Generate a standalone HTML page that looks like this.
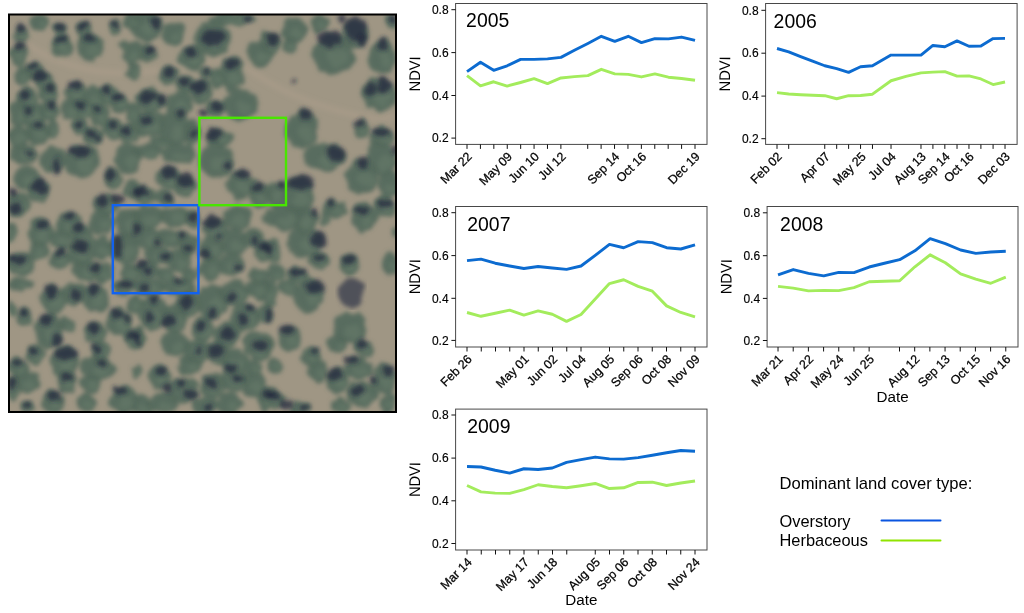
<!DOCTYPE html>
<html><head><meta charset="utf-8"><title>NDVI figure</title>
<style>html,body{margin:0;padding:0;background:#fff;}body{width:1024px;height:613px;overflow:hidden;position:relative;}</style></head>
<body>
<svg width="1024" height="613" viewBox="0 0 1024 613" style="position:absolute;left:0;top:0;font-family:'Liberation Sans',Arial,sans-serif">
<rect width="1024" height="613" fill="#fff"/>
<defs><clipPath id="ac"><rect x="9" y="14.5" width="387" height="397.5"/></clipPath><filter id="b1" x="-5%" y="-5%" width="110%" height="110%"><feTurbulence type="fractalNoise" baseFrequency="0.09" numOctaves="2" seed="7" result="n"/><feDisplacementMap in="SourceGraphic" in2="n" scale="9" xChannelSelector="R" yChannelSelector="G" result="d"/><feGaussianBlur in="d" stdDeviation="2"/></filter><filter id="b2" x="-5%" y="-5%" width="110%" height="110%"><feTurbulence type="fractalNoise" baseFrequency="0.12" numOctaves="2" seed="3" result="n"/><feDisplacementMap in="SourceGraphic" in2="n" scale="8" xChannelSelector="R" yChannelSelector="G" result="d"/><feGaussianBlur in="d" stdDeviation="2.3"/></filter><filter id="b3"><feGaussianBlur stdDeviation="2"/></filter></defs>
<g clip-path="url(#ac)"><rect x="9" y="14.5" width="387" height="397.5" fill="#9f9684"/>
<path d="M18,38 C60,70 110,78 160,70 S225,52 250,70 S310,104 347,113 S385,118 396,116" fill="none" stroke="#ab9d8b" stroke-width="6" stroke-opacity="0.55" filter="url(#b3)"/>
<g filter="url(#b1)" fill="#52685b" fill-opacity="0.92"><ellipse cx="40.2" cy="22.8" rx="9.9" ry="8.9"/><ellipse cx="20.9" cy="33.8" rx="7.4" ry="9.4"/><ellipse cx="60.1" cy="28.7" rx="6.2" ry="6.9"/><ellipse cx="61.2" cy="46.3" rx="10.4" ry="11.8"/><ellipse cx="83.2" cy="28.7" rx="7.4" ry="7.9"/><ellipse cx="89.8" cy="47.4" rx="12.8" ry="14.3"/><ellipse cx="115.1" cy="27.2" rx="6.4" ry="7.9"/><ellipse cx="132.3" cy="21.0" rx="8.9" ry="7.9"/><ellipse cx="18.2" cy="55.1" rx="9.4" ry="11.8"/><ellipse cx="132.7" cy="52.9" rx="9.9" ry="12.3"/><ellipse cx="133.8" cy="71.7" rx="7.4" ry="8.9"/><ellipse cx="125.0" cy="45.2" rx="4.9" ry="4.9"/><ellipse cx="33.6" cy="70.6" rx="9.9" ry="8.6"/><ellipse cx="43.5" cy="80.5" rx="9.9" ry="8.6"/><ellipse cx="22.6" cy="76.1" rx="9.9" ry="9.9"/><ellipse cx="27.0" cy="98.1" rx="11.1" ry="11.1"/><ellipse cx="49.0" cy="93.7" rx="9.9" ry="11.1"/><ellipse cx="18.2" cy="113.5" rx="9.9" ry="12.3"/><ellipse cx="33.6" cy="115.7" rx="12.3" ry="12.3"/><ellipse cx="49.0" cy="111.3" rx="9.9" ry="9.9"/><ellipse cx="18.2" cy="135.5" rx="11.1" ry="11.1"/><ellipse cx="38.0" cy="133.3" rx="12.3" ry="12.3"/><ellipse cx="52.3" cy="128.9" rx="7.4" ry="9.9"/><ellipse cx="75.5" cy="91.5" rx="9.9" ry="11.1"/><ellipse cx="71.1" cy="109.1" rx="11.1" ry="11.1"/><ellipse cx="84.3" cy="109.1" rx="9.9" ry="9.9"/><ellipse cx="93.1" cy="98.1" rx="11.1" ry="12.3"/><ellipse cx="108.5" cy="95.9" rx="11.1" ry="11.1"/><ellipse cx="119.5" cy="102.5" rx="9.9" ry="9.9"/><ellipse cx="99.7" cy="115.7" rx="11.1" ry="9.9"/><ellipse cx="79.9" cy="126.7" rx="8.6" ry="8.6"/><ellipse cx="93.1" cy="135.5" rx="9.9" ry="9.9"/><ellipse cx="112.9" cy="128.9" rx="11.1" ry="11.1"/><ellipse cx="128.3" cy="133.3" rx="9.9" ry="9.9"/><ellipse cx="132.7" cy="113.5" rx="7.4" ry="9.9"/><ellipse cx="146.0" cy="25.4" rx="16.5" ry="16.5"/><ellipse cx="173.5" cy="34.2" rx="11.0" ry="12.4"/><ellipse cx="148.2" cy="52.9" rx="9.6" ry="9.6"/><ellipse cx="212.1" cy="38.6" rx="17.9" ry="17.9"/><ellipse cx="231.9" cy="18.8" rx="24.8" ry="6.9"/><ellipse cx="192.3" cy="57.3" rx="13.8" ry="12.4"/><ellipse cx="168.0" cy="75.0" rx="9.6" ry="11.0"/><ellipse cx="185.7" cy="84.9" rx="9.6" ry="9.6"/><ellipse cx="201.1" cy="91.5" rx="11.0" ry="12.4"/><ellipse cx="205.5" cy="72.8" rx="6.1" ry="6.9"/><ellipse cx="216.5" cy="78.3" rx="6.9" ry="11.0"/><ellipse cx="231.9" cy="73.9" rx="12.4" ry="17.9"/><ellipse cx="260.5" cy="54.0" rx="12.4" ry="13.8"/><ellipse cx="264.9" cy="38.6" rx="6.9" ry="8.3"/><ellipse cx="150.4" cy="100.3" rx="15.1" ry="12.4"/><ellipse cx="179.0" cy="104.7" rx="13.8" ry="13.8"/><ellipse cx="214.3" cy="109.1" rx="9.6" ry="8.3"/><ellipse cx="240.7" cy="104.7" rx="17.9" ry="15.1"/><ellipse cx="148.2" cy="124.5" rx="16.5" ry="13.8"/><ellipse cx="174.6" cy="128.9" rx="16.5" ry="16.5"/><ellipse cx="192.3" cy="133.3" rx="8.3" ry="13.8"/><ellipse cx="218.7" cy="137.7" rx="13.8" ry="9.6"/><ellipse cx="161.4" cy="142.1" rx="11.0" ry="5.5"/><ellipse cx="271.6" cy="43.0" rx="8.9" ry="11.4"/><ellipse cx="293.6" cy="29.8" rx="12.7" ry="13.9"/><ellipse cx="320.1" cy="23.2" rx="10.1" ry="8.9"/><ellipse cx="333.3" cy="54.0" rx="21.5" ry="20.3"/><ellipse cx="355.3" cy="34.2" rx="12.7" ry="13.9"/><ellipse cx="382.8" cy="56.2" rx="13.9" ry="17.7"/><ellipse cx="390.5" cy="21.0" rx="6.3" ry="7.6"/><ellipse cx="378.4" cy="94.8" rx="16.5" ry="16.5"/><ellipse cx="302.4" cy="128.9" rx="16.5" ry="19.0"/><ellipse cx="361.9" cy="130.0" rx="7.6" ry="10.1"/><ellipse cx="381.7" cy="137.7" rx="12.7" ry="10.1"/><ellipse cx="289.2" cy="45.2" rx="6.3" ry="6.3"/><ellipse cx="24.8" cy="153.8" rx="15.2" ry="10.1"/><ellipse cx="53.5" cy="160.4" rx="12.7" ry="13.9"/><ellipse cx="82.1" cy="160.4" rx="17.7" ry="16.5"/><ellipse cx="128.3" cy="158.2" rx="12.7" ry="15.2"/><ellipse cx="27.0" cy="178.0" rx="12.7" ry="12.7"/><ellipse cx="38.0" cy="191.2" rx="11.4" ry="11.4"/><ellipse cx="112.9" cy="178.0" rx="8.9" ry="11.4"/><ellipse cx="132.7" cy="189.0" rx="8.9" ry="10.1"/><ellipse cx="18.2" cy="204.5" rx="11.4" ry="12.7"/><ellipse cx="106.3" cy="204.5" rx="12.7" ry="10.1"/><ellipse cx="40.2" cy="230.9" rx="12.7" ry="13.9"/><ellipse cx="68.9" cy="224.3" rx="11.4" ry="12.7"/><ellipse cx="60.1" cy="239.7" rx="10.1" ry="10.1"/><ellipse cx="82.1" cy="237.5" rx="12.7" ry="12.7"/><ellipse cx="101.9" cy="222.1" rx="12.7" ry="12.7"/><ellipse cx="128.3" cy="222.1" rx="12.7" ry="15.2"/><ellipse cx="79.9" cy="252.9" rx="13.9" ry="12.7"/><ellipse cx="101.9" cy="248.5" rx="10.1" ry="12.7"/><ellipse cx="123.9" cy="248.5" rx="15.2" ry="15.2"/><ellipse cx="38.0" cy="250.7" rx="10.1" ry="10.1"/><ellipse cx="60.1" cy="259.5" rx="10.1" ry="10.1"/><ellipse cx="20.4" cy="263.9" rx="13.9" ry="12.7"/><ellipse cx="86.5" cy="270.5" rx="12.7" ry="11.4"/><ellipse cx="104.1" cy="272.7" rx="10.1" ry="10.1"/><ellipse cx="130.5" cy="272.7" rx="10.1" ry="10.1"/><ellipse cx="11.6" cy="233.1" rx="5.1" ry="10.1"/><ellipse cx="148.2" cy="151.6" rx="15.2" ry="7.6"/><ellipse cx="179.0" cy="153.8" rx="17.7" ry="10.1"/><ellipse cx="168.0" cy="178.0" rx="12.7" ry="11.4"/><ellipse cx="185.7" cy="186.8" rx="11.4" ry="11.4"/><ellipse cx="143.8" cy="195.7" rx="11.4" ry="10.1"/><ellipse cx="163.6" cy="197.9" rx="10.1" ry="7.6"/><ellipse cx="216.5" cy="160.4" rx="17.7" ry="17.7"/><ellipse cx="240.7" cy="184.6" rx="15.2" ry="15.2"/><ellipse cx="260.5" cy="195.7" rx="11.4" ry="12.7"/><ellipse cx="148.2" cy="217.7" rx="15.2" ry="11.4"/><ellipse cx="174.6" cy="215.5" rx="15.2" ry="10.1"/><ellipse cx="192.3" cy="219.9" rx="7.6" ry="10.1"/><ellipse cx="148.2" cy="237.5" rx="13.9" ry="11.4"/><ellipse cx="170.2" cy="237.5" rx="12.7" ry="10.1"/><ellipse cx="187.9" cy="244.1" rx="10.1" ry="11.4"/><ellipse cx="157.0" cy="255.1" rx="12.7" ry="10.1"/><ellipse cx="179.0" cy="259.5" rx="12.7" ry="11.4"/><ellipse cx="146.0" cy="270.5" rx="12.7" ry="10.1"/><ellipse cx="165.8" cy="274.9" rx="10.1" ry="7.6"/><ellipse cx="190.1" cy="274.9" rx="8.9" ry="7.6"/><ellipse cx="214.3" cy="228.7" rx="12.7" ry="10.1"/><ellipse cx="236.3" cy="217.7" rx="15.2" ry="12.7"/><ellipse cx="212.1" cy="248.5" rx="12.7" ry="12.7"/><ellipse cx="234.1" cy="241.9" rx="13.9" ry="12.7"/><ellipse cx="253.9" cy="237.5" rx="10.1" ry="10.1"/><ellipse cx="209.9" cy="268.3" rx="11.4" ry="12.7"/><ellipse cx="231.9" cy="263.9" rx="12.7" ry="11.4"/><ellipse cx="262.7" cy="250.7" rx="8.9" ry="11.4"/><ellipse cx="258.3" cy="274.9" rx="10.1" ry="7.6"/><ellipse cx="324.5" cy="157.1" rx="21.5" ry="13.9"/><ellipse cx="298.0" cy="195.7" rx="16.5" ry="19.0"/><ellipse cx="276.0" cy="193.5" rx="10.1" ry="12.7"/><ellipse cx="361.9" cy="175.8" rx="16.5" ry="16.5"/><ellipse cx="381.7" cy="158.2" rx="15.2" ry="17.7"/><ellipse cx="388.3" cy="184.6" rx="10.1" ry="12.7"/><ellipse cx="335.5" cy="208.9" rx="11.4" ry="10.1"/><ellipse cx="364.1" cy="217.7" rx="12.7" ry="13.9"/><ellipse cx="385.0" cy="206.7" rx="11.4" ry="11.4"/><ellipse cx="282.6" cy="217.7" rx="20.3" ry="12.7"/><ellipse cx="304.6" cy="219.9" rx="12.7" ry="12.7"/><ellipse cx="304.6" cy="241.9" rx="17.7" ry="16.5"/><ellipse cx="271.6" cy="250.7" rx="10.1" ry="12.7"/><ellipse cx="319.0" cy="260.6" rx="10.1" ry="8.9"/><ellipse cx="349.8" cy="265.0" rx="10.1" ry="11.4"/><ellipse cx="390.5" cy="263.9" rx="7.6" ry="12.7"/><ellipse cx="298.0" cy="274.9" rx="11.4" ry="7.6"/><ellipse cx="276.0" cy="272.7" rx="8.9" ry="8.9"/><ellipse cx="394.9" cy="233.1" rx="3.8" ry="5.1"/><ellipse cx="324.5" cy="217.7" rx="5.1" ry="7.6"/><ellipse cx="20.4" cy="284.4" rx="12.7" ry="6.3"/><ellipse cx="53.5" cy="299.8" rx="12.7" ry="13.9"/><ellipse cx="73.3" cy="293.2" rx="12.7" ry="11.4"/><ellipse cx="95.3" cy="297.6" rx="12.7" ry="15.2"/><ellipse cx="121.7" cy="286.6" rx="10.1" ry="7.6"/><ellipse cx="134.9" cy="304.2" rx="7.6" ry="10.1"/><ellipse cx="23.7" cy="317.4" rx="8.9" ry="8.9"/><ellipse cx="49.0" cy="330.7" rx="13.9" ry="17.7"/><ellipse cx="66.7" cy="324.0" rx="7.6" ry="7.6"/><ellipse cx="95.3" cy="332.9" rx="11.4" ry="11.4"/><ellipse cx="119.5" cy="321.8" rx="12.7" ry="13.9"/><ellipse cx="133.8" cy="339.5" rx="10.1" ry="11.4"/><ellipse cx="35.8" cy="354.9" rx="10.1" ry="10.1"/><ellipse cx="64.5" cy="361.5" rx="13.9" ry="15.2"/><ellipse cx="99.7" cy="350.5" rx="10.1" ry="10.1"/><ellipse cx="97.5" cy="368.1" rx="17.7" ry="12.7"/><ellipse cx="18.2" cy="368.1" rx="10.1" ry="10.1"/><ellipse cx="27.0" cy="381.3" rx="12.7" ry="11.4"/><ellipse cx="66.7" cy="381.3" rx="10.1" ry="11.4"/><ellipse cx="90.9" cy="383.5" rx="10.1" ry="8.9"/><ellipse cx="13.8" cy="387.9" rx="6.3" ry="12.7"/><ellipse cx="53.5" cy="402.2" rx="11.4" ry="11.4"/><ellipse cx="86.5" cy="402.2" rx="10.1" ry="10.1"/><ellipse cx="123.9" cy="400.0" rx="15.2" ry="13.9"/><ellipse cx="27.0" cy="406.6" rx="7.6" ry="6.3"/><ellipse cx="11.6" cy="308.6" rx="3.8" ry="7.6"/><ellipse cx="137.1" cy="372.5" rx="5.1" ry="7.6"/><ellipse cx="148.2" cy="286.6" rx="17.7" ry="7.6"/><ellipse cx="179.0" cy="286.6" rx="15.2" ry="8.9"/><ellipse cx="152.6" cy="313.0" rx="15.2" ry="17.7"/><ellipse cx="174.6" cy="319.6" rx="12.7" ry="13.9"/><ellipse cx="187.9" cy="304.2" rx="12.7" ry="13.9"/><ellipse cx="212.1" cy="302.0" rx="15.2" ry="17.7"/><ellipse cx="234.1" cy="293.2" rx="15.2" ry="12.7"/><ellipse cx="258.3" cy="288.8" rx="12.7" ry="10.1"/><ellipse cx="245.1" cy="317.4" rx="15.2" ry="13.9"/><ellipse cx="264.9" cy="313.0" rx="7.6" ry="10.1"/><ellipse cx="203.3" cy="328.5" rx="11.4" ry="12.7"/><ellipse cx="227.5" cy="335.1" rx="13.9" ry="12.7"/><ellipse cx="258.3" cy="346.1" rx="15.2" ry="15.2"/><ellipse cx="174.6" cy="343.9" rx="15.2" ry="12.7"/><ellipse cx="196.7" cy="350.5" rx="12.7" ry="12.7"/><ellipse cx="216.5" cy="352.7" rx="11.4" ry="12.7"/><ellipse cx="190.1" cy="365.9" rx="12.7" ry="10.1"/><ellipse cx="234.1" cy="361.5" rx="12.7" ry="12.7"/><ellipse cx="159.2" cy="376.9" rx="11.4" ry="12.7"/><ellipse cx="183.5" cy="390.1" rx="15.2" ry="12.7"/><ellipse cx="212.1" cy="385.7" rx="12.7" ry="12.7"/><ellipse cx="234.1" cy="379.1" rx="13.9" ry="12.7"/><ellipse cx="253.9" cy="383.5" rx="11.4" ry="12.7"/><ellipse cx="163.6" cy="403.3" rx="15.2" ry="10.1"/><ellipse cx="205.5" cy="405.5" rx="12.7" ry="8.9"/><ellipse cx="229.7" cy="403.3" rx="12.7" ry="11.4"/><ellipse cx="264.9" cy="398.9" rx="7.6" ry="12.7"/><ellipse cx="141.6" cy="405.5" rx="10.1" ry="8.9"/><ellipse cx="139.4" cy="337.3" rx="5.1" ry="10.1"/><ellipse cx="253.9" cy="368.1" rx="10.1" ry="7.6"/><ellipse cx="309.0" cy="295.4" rx="15.2" ry="17.7"/><ellipse cx="349.8" cy="328.5" rx="16.5" ry="16.5"/><ellipse cx="337.7" cy="343.9" rx="10.1" ry="10.1"/><ellipse cx="290.3" cy="338.4" rx="11.4" ry="12.7"/><ellipse cx="364.1" cy="348.3" rx="10.1" ry="8.9"/><ellipse cx="311.2" cy="357.1" rx="10.1" ry="8.9"/><ellipse cx="317.9" cy="370.3" rx="10.1" ry="11.4"/><ellipse cx="274.9" cy="364.8" rx="7.6" ry="7.6"/><ellipse cx="357.5" cy="368.1" rx="13.9" ry="11.4"/><ellipse cx="383.9" cy="379.1" rx="12.7" ry="15.2"/><ellipse cx="337.7" cy="381.3" rx="11.4" ry="12.7"/><ellipse cx="361.9" cy="394.5" rx="15.2" ry="12.7"/><ellipse cx="388.3" cy="403.3" rx="7.6" ry="10.1"/><ellipse cx="273.8" cy="398.9" rx="12.7" ry="10.1"/><ellipse cx="300.2" cy="407.7" rx="10.1" ry="6.3"/><ellipse cx="339.9" cy="405.5" rx="10.1" ry="7.6"/><ellipse cx="269.4" cy="293.2" rx="7.6" ry="15.2"/><ellipse cx="267.2" cy="346.1" rx="3.8" ry="10.1"/><ellipse cx="287.0" cy="286.6" rx="10.1" ry="7.6"/></g>
<g filter="url(#b1)" fill="#6c8270" fill-opacity="0.35"><ellipse cx="42.2" cy="25.0" rx="4.8" ry="4.0"/><ellipse cx="22.3" cy="36.1" rx="3.6" ry="4.2"/><ellipse cx="61.3" cy="30.4" rx="3.0" ry="3.1"/><ellipse cx="63.2" cy="49.3" rx="5.1" ry="5.3"/><ellipse cx="84.6" cy="30.7" rx="3.6" ry="3.5"/><ellipse cx="92.3" cy="51.0" rx="6.3" ry="6.4"/><ellipse cx="116.4" cy="29.2" rx="3.1" ry="3.5"/><ellipse cx="134.0" cy="23.0" rx="4.4" ry="3.5"/><ellipse cx="20.1" cy="58.1" rx="4.6" ry="5.3"/><ellipse cx="134.7" cy="56.0" rx="4.8" ry="5.5"/><ellipse cx="135.3" cy="73.9" rx="3.6" ry="4.0"/><ellipse cx="126.0" cy="46.5" rx="2.4" ry="2.2"/><ellipse cx="35.6" cy="72.7" rx="4.8" ry="3.9"/><ellipse cx="45.5" cy="82.6" rx="4.8" ry="3.9"/><ellipse cx="24.6" cy="78.5" rx="4.8" ry="4.4"/><ellipse cx="29.2" cy="100.9" rx="5.5" ry="5.0"/><ellipse cx="51.0" cy="96.5" rx="4.8" ry="5.0"/><ellipse cx="20.2" cy="116.6" rx="4.8" ry="5.5"/><ellipse cx="36.1" cy="118.8" rx="6.1" ry="5.5"/><ellipse cx="51.0" cy="113.8" rx="4.8" ry="4.4"/><ellipse cx="20.4" cy="138.3" rx="5.5" ry="5.0"/><ellipse cx="40.5" cy="136.4" rx="6.1" ry="5.5"/><ellipse cx="53.8" cy="131.4" rx="3.6" ry="4.4"/><ellipse cx="77.4" cy="94.3" rx="4.8" ry="5.0"/><ellipse cx="73.2" cy="111.9" rx="5.5" ry="5.0"/><ellipse cx="86.2" cy="111.6" rx="4.8" ry="4.4"/><ellipse cx="95.3" cy="101.2" rx="5.5" ry="5.5"/><ellipse cx="110.7" cy="98.7" rx="5.5" ry="5.0"/><ellipse cx="121.5" cy="105.0" rx="4.8" ry="4.4"/><ellipse cx="101.9" cy="118.2" rx="5.5" ry="4.4"/><ellipse cx="81.6" cy="128.9" rx="4.2" ry="3.9"/><ellipse cx="95.0" cy="138.0" rx="4.8" ry="4.4"/><ellipse cx="115.1" cy="131.7" rx="5.5" ry="5.0"/><ellipse cx="130.3" cy="135.8" rx="4.8" ry="4.4"/><ellipse cx="134.2" cy="116.0" rx="3.6" ry="4.4"/><ellipse cx="148.9" cy="29.1" rx="7.3" ry="6.6"/><ellipse cx="175.5" cy="37.0" rx="4.8" ry="5.0"/><ellipse cx="149.9" cy="55.1" rx="4.2" ry="3.9"/><ellipse cx="215.2" cy="42.6" rx="7.9" ry="7.2"/><ellipse cx="236.3" cy="20.4" rx="10.9" ry="2.8"/><ellipse cx="194.7" cy="60.1" rx="6.1" ry="5.0"/><ellipse cx="169.7" cy="77.4" rx="4.2" ry="4.4"/><ellipse cx="187.3" cy="87.0" rx="4.2" ry="3.9"/><ellipse cx="203.0" cy="94.3" rx="4.8" ry="5.0"/><ellipse cx="206.5" cy="74.3" rx="2.7" ry="2.8"/><ellipse cx="217.7" cy="80.7" rx="3.0" ry="4.4"/><ellipse cx="234.1" cy="77.9" rx="5.5" ry="7.2"/><ellipse cx="262.7" cy="57.1" rx="5.5" ry="5.5"/><ellipse cx="266.1" cy="40.5" rx="3.0" ry="3.3"/><ellipse cx="153.1" cy="103.1" rx="6.7" ry="5.0"/><ellipse cx="181.5" cy="107.8" rx="6.1" ry="5.5"/><ellipse cx="216.0" cy="111.0" rx="4.2" ry="3.3"/><ellipse cx="243.9" cy="108.1" rx="7.9" ry="6.1"/><ellipse cx="151.1" cy="127.6" rx="7.3" ry="5.5"/><ellipse cx="177.5" cy="132.6" rx="7.3" ry="6.6"/><ellipse cx="193.7" cy="136.4" rx="3.6" ry="5.5"/><ellipse cx="221.1" cy="139.9" rx="6.1" ry="3.9"/><ellipse cx="163.4" cy="143.4" rx="4.8" ry="2.2"/><ellipse cx="273.3" cy="45.8" rx="4.2" ry="5.0"/><ellipse cx="296.1" cy="33.2" rx="6.1" ry="6.1"/><ellipse cx="322.0" cy="25.4" rx="4.8" ry="3.9"/><ellipse cx="337.4" cy="59.0" rx="10.3" ry="8.8"/><ellipse cx="357.7" cy="37.6" rx="6.1" ry="6.1"/><ellipse cx="385.5" cy="60.6" rx="6.7" ry="7.7"/><ellipse cx="391.7" cy="22.9" rx="3.0" ry="3.3"/><ellipse cx="381.6" cy="98.8" rx="7.9" ry="7.2"/><ellipse cx="305.6" cy="133.5" rx="7.9" ry="8.3"/><ellipse cx="363.4" cy="132.5" rx="3.6" ry="4.4"/><ellipse cx="384.1" cy="140.2" rx="6.1" ry="4.4"/><ellipse cx="290.4" cy="46.8" rx="3.0" ry="2.8"/><ellipse cx="27.7" cy="156.3" rx="7.3" ry="4.4"/><ellipse cx="55.9" cy="163.8" rx="6.1" ry="6.1"/><ellipse cx="85.5" cy="164.4" rx="8.5" ry="7.2"/><ellipse cx="130.8" cy="161.9" rx="6.1" ry="6.6"/><ellipse cx="29.4" cy="181.1" rx="6.1" ry="5.5"/><ellipse cx="40.2" cy="194.0" rx="5.5" ry="5.0"/><ellipse cx="114.6" cy="180.8" rx="4.2" ry="5.0"/><ellipse cx="134.4" cy="191.5" rx="4.2" ry="4.4"/><ellipse cx="20.4" cy="207.5" rx="5.5" ry="5.5"/><ellipse cx="108.7" cy="206.9" rx="6.1" ry="4.4"/><ellipse cx="42.7" cy="234.3" rx="6.1" ry="6.1"/><ellipse cx="71.0" cy="227.4" rx="5.5" ry="5.5"/><ellipse cx="62.0" cy="242.2" rx="4.8" ry="4.4"/><ellipse cx="84.5" cy="240.6" rx="6.1" ry="5.5"/><ellipse cx="104.3" cy="225.2" rx="6.1" ry="5.5"/><ellipse cx="130.8" cy="225.8" rx="6.1" ry="6.6"/><ellipse cx="82.5" cy="256.0" rx="6.7" ry="5.5"/><ellipse cx="103.8" cy="251.6" rx="4.8" ry="5.5"/><ellipse cx="126.8" cy="252.2" rx="7.3" ry="6.6"/><ellipse cx="40.0" cy="253.2" rx="4.8" ry="4.4"/><ellipse cx="62.0" cy="262.0" rx="4.8" ry="4.4"/><ellipse cx="23.1" cy="267.0" rx="6.7" ry="5.5"/><ellipse cx="88.9" cy="273.3" rx="6.1" ry="5.0"/><ellipse cx="106.0" cy="275.2" rx="4.8" ry="4.4"/><ellipse cx="132.5" cy="275.2" rx="4.8" ry="4.4"/><ellipse cx="12.6" cy="235.6" rx="2.4" ry="4.4"/><ellipse cx="151.1" cy="153.5" rx="7.3" ry="3.3"/><ellipse cx="182.4" cy="156.3" rx="8.5" ry="4.4"/><ellipse cx="170.5" cy="180.8" rx="6.1" ry="5.0"/><ellipse cx="187.8" cy="189.6" rx="5.5" ry="5.0"/><ellipse cx="146.0" cy="198.1" rx="5.5" ry="4.4"/><ellipse cx="165.6" cy="199.7" rx="4.8" ry="3.3"/><ellipse cx="219.9" cy="164.7" rx="8.5" ry="7.7"/><ellipse cx="243.6" cy="188.3" rx="7.3" ry="6.6"/><ellipse cx="262.7" cy="198.7" rx="5.5" ry="5.5"/><ellipse cx="151.1" cy="220.5" rx="7.3" ry="5.0"/><ellipse cx="177.5" cy="217.9" rx="7.3" ry="4.4"/><ellipse cx="193.7" cy="222.3" rx="3.6" ry="4.4"/><ellipse cx="150.9" cy="240.3" rx="6.7" ry="5.0"/><ellipse cx="172.7" cy="240.0" rx="6.1" ry="4.4"/><ellipse cx="189.8" cy="246.9" rx="4.8" ry="5.0"/><ellipse cx="159.4" cy="257.6" rx="6.1" ry="4.4"/><ellipse cx="181.5" cy="262.3" rx="6.1" ry="5.0"/><ellipse cx="148.4" cy="273.0" rx="6.1" ry="4.4"/><ellipse cx="167.8" cy="276.8" rx="4.8" ry="3.3"/><ellipse cx="191.8" cy="276.8" rx="4.2" ry="3.3"/><ellipse cx="216.7" cy="231.2" rx="6.1" ry="4.4"/><ellipse cx="239.2" cy="220.8" rx="7.3" ry="5.5"/><ellipse cx="214.5" cy="251.6" rx="6.1" ry="5.5"/><ellipse cx="236.8" cy="245.0" rx="6.7" ry="5.5"/><ellipse cx="255.9" cy="240.0" rx="4.8" ry="4.4"/><ellipse cx="212.1" cy="271.4" rx="5.5" ry="5.5"/><ellipse cx="234.3" cy="266.7" rx="6.1" ry="5.0"/><ellipse cx="264.4" cy="253.5" rx="4.2" ry="5.0"/><ellipse cx="260.3" cy="276.8" rx="4.8" ry="3.3"/><ellipse cx="328.6" cy="160.5" rx="10.3" ry="6.1"/><ellipse cx="301.2" cy="200.3" rx="7.9" ry="8.3"/><ellipse cx="277.9" cy="196.5" rx="4.8" ry="5.5"/><ellipse cx="365.0" cy="179.8" rx="7.9" ry="7.2"/><ellipse cx="384.6" cy="162.5" rx="7.3" ry="7.7"/><ellipse cx="390.3" cy="187.7" rx="4.8" ry="5.5"/><ellipse cx="337.7" cy="211.3" rx="5.5" ry="4.4"/><ellipse cx="366.5" cy="221.1" rx="6.1" ry="6.1"/><ellipse cx="387.2" cy="209.4" rx="5.5" ry="5.0"/><ellipse cx="286.5" cy="220.8" rx="9.7" ry="5.5"/><ellipse cx="307.1" cy="223.0" rx="6.1" ry="5.5"/><ellipse cx="308.0" cy="245.9" rx="8.5" ry="7.2"/><ellipse cx="273.5" cy="253.8" rx="4.8" ry="5.5"/><ellipse cx="320.9" cy="262.8" rx="4.8" ry="3.9"/><ellipse cx="351.7" cy="267.8" rx="4.8" ry="5.0"/><ellipse cx="392.0" cy="267.0" rx="3.6" ry="5.5"/><ellipse cx="300.2" cy="276.8" rx="5.5" ry="3.3"/><ellipse cx="277.7" cy="274.9" rx="4.2" ry="3.9"/><ellipse cx="395.7" cy="234.3" rx="1.8" ry="2.2"/><ellipse cx="325.4" cy="219.5" rx="2.4" ry="3.3"/><ellipse cx="22.8" cy="285.9" rx="6.1" ry="2.8"/><ellipse cx="55.9" cy="303.2" rx="6.1" ry="6.1"/><ellipse cx="75.7" cy="296.0" rx="6.1" ry="5.0"/><ellipse cx="97.7" cy="301.3" rx="6.1" ry="6.6"/><ellipse cx="123.7" cy="288.5" rx="4.8" ry="3.3"/><ellipse cx="136.4" cy="306.7" rx="3.6" ry="4.4"/><ellipse cx="25.4" cy="319.6" rx="4.2" ry="3.9"/><ellipse cx="51.7" cy="335.0" rx="6.7" ry="7.7"/><ellipse cx="68.1" cy="325.9" rx="3.6" ry="3.3"/><ellipse cx="97.5" cy="335.6" rx="5.5" ry="5.0"/><ellipse cx="121.9" cy="325.2" rx="6.1" ry="6.1"/><ellipse cx="135.8" cy="342.2" rx="4.8" ry="5.0"/><ellipse cx="37.8" cy="357.3" rx="4.8" ry="4.4"/><ellipse cx="67.1" cy="365.2" rx="6.7" ry="6.6"/><ellipse cx="101.6" cy="352.9" rx="4.8" ry="4.4"/><ellipse cx="100.9" cy="371.2" rx="8.5" ry="5.5"/><ellipse cx="20.2" cy="370.6" rx="4.8" ry="4.4"/><ellipse cx="29.4" cy="384.1" rx="6.1" ry="5.0"/><ellipse cx="68.6" cy="384.1" rx="4.8" ry="5.0"/><ellipse cx="92.8" cy="385.7" rx="4.8" ry="3.9"/><ellipse cx="15.0" cy="391.0" rx="3.0" ry="5.5"/><ellipse cx="55.6" cy="405.0" rx="5.5" ry="5.0"/><ellipse cx="88.4" cy="404.7" rx="4.8" ry="4.4"/><ellipse cx="126.8" cy="403.4" rx="7.3" ry="6.1"/><ellipse cx="28.5" cy="408.2" rx="3.6" ry="2.8"/><ellipse cx="12.3" cy="310.5" rx="1.8" ry="3.3"/><ellipse cx="138.1" cy="374.3" rx="2.4" ry="3.3"/><ellipse cx="151.6" cy="288.5" rx="8.5" ry="3.3"/><ellipse cx="182.0" cy="288.8" rx="7.3" ry="3.9"/><ellipse cx="155.5" cy="317.4" rx="7.3" ry="7.7"/><ellipse cx="177.1" cy="323.0" rx="6.1" ry="6.1"/><ellipse cx="190.3" cy="307.6" rx="6.1" ry="6.1"/><ellipse cx="215.0" cy="306.3" rx="7.3" ry="7.7"/><ellipse cx="237.0" cy="296.3" rx="7.3" ry="5.5"/><ellipse cx="260.8" cy="291.3" rx="6.1" ry="4.4"/><ellipse cx="248.0" cy="320.8" rx="7.3" ry="6.1"/><ellipse cx="266.4" cy="315.5" rx="3.6" ry="4.4"/><ellipse cx="205.5" cy="331.5" rx="5.5" ry="5.5"/><ellipse cx="230.2" cy="338.1" rx="6.7" ry="5.5"/><ellipse cx="261.2" cy="349.8" rx="7.3" ry="6.6"/><ellipse cx="177.5" cy="346.9" rx="7.3" ry="5.5"/><ellipse cx="199.1" cy="353.6" rx="6.1" ry="5.5"/><ellipse cx="218.7" cy="355.8" rx="5.5" ry="5.5"/><ellipse cx="192.5" cy="368.4" rx="6.1" ry="4.4"/><ellipse cx="236.5" cy="364.6" rx="6.1" ry="5.5"/><ellipse cx="161.4" cy="380.0" rx="5.5" ry="5.5"/><ellipse cx="186.4" cy="393.2" rx="7.3" ry="5.5"/><ellipse cx="214.5" cy="388.8" rx="6.1" ry="5.5"/><ellipse cx="236.8" cy="382.2" rx="6.7" ry="5.5"/><ellipse cx="256.1" cy="386.6" rx="5.5" ry="5.5"/><ellipse cx="166.5" cy="405.8" rx="7.3" ry="4.4"/><ellipse cx="207.9" cy="407.7" rx="6.1" ry="3.9"/><ellipse cx="232.1" cy="406.1" rx="6.1" ry="5.0"/><ellipse cx="266.4" cy="402.0" rx="3.6" ry="5.5"/><ellipse cx="143.5" cy="407.7" rx="4.8" ry="3.9"/><ellipse cx="140.4" cy="339.7" rx="2.4" ry="4.4"/><ellipse cx="255.9" cy="369.9" rx="4.8" ry="3.3"/><ellipse cx="312.0" cy="299.7" rx="7.3" ry="7.7"/><ellipse cx="352.9" cy="332.5" rx="7.9" ry="7.2"/><ellipse cx="339.6" cy="346.3" rx="4.8" ry="4.4"/><ellipse cx="292.5" cy="341.4" rx="5.5" ry="5.5"/><ellipse cx="366.0" cy="350.4" rx="4.8" ry="3.9"/><ellipse cx="313.2" cy="359.2" rx="4.8" ry="3.9"/><ellipse cx="319.8" cy="373.1" rx="4.8" ry="5.0"/><ellipse cx="276.4" cy="366.6" rx="3.6" ry="3.3"/><ellipse cx="360.2" cy="370.9" rx="6.7" ry="5.0"/><ellipse cx="386.3" cy="382.8" rx="6.1" ry="6.6"/><ellipse cx="339.9" cy="384.4" rx="5.5" ry="5.5"/><ellipse cx="364.8" cy="397.6" rx="7.3" ry="5.5"/><ellipse cx="389.8" cy="405.8" rx="3.6" ry="4.4"/><ellipse cx="276.2" cy="401.4" rx="6.1" ry="4.4"/><ellipse cx="302.2" cy="409.3" rx="4.8" ry="2.8"/><ellipse cx="341.8" cy="407.4" rx="4.8" ry="3.3"/><ellipse cx="270.9" cy="296.9" rx="3.6" ry="6.6"/><ellipse cx="267.9" cy="348.5" rx="1.8" ry="4.4"/><ellipse cx="289.0" cy="288.5" rx="4.8" ry="3.3"/></g>
<g filter="url(#b1)" fill="#4b4e56" fill-opacity="0.95"><ellipse cx="350.9" cy="293.2" rx="13.9" ry="15.2"/></g>
<g filter="url(#b2)" fill="#222a3c" fill-opacity="0.75"><ellipse cx="20.9" cy="28.7" rx="4.6" ry="4.6"/><ellipse cx="60.1" cy="26.5" rx="4.6" ry="4.6"/><ellipse cx="83.2" cy="25.4" rx="5.3" ry="4.6"/><ellipse cx="115.1" cy="25.4" rx="4.3" ry="4.3"/><ellipse cx="19.3" cy="46.3" rx="5.3" ry="4.0"/><ellipse cx="61.2" cy="39.7" rx="5.9" ry="3.3"/><ellipse cx="88.7" cy="38.6" rx="6.6" ry="3.3"/><ellipse cx="32.5" cy="66.2" rx="5.3" ry="4.0"/><ellipse cx="41.3" cy="76.1" rx="7.3" ry="5.3"/><ellipse cx="25.9" cy="94.8" rx="4.6" ry="5.3"/><ellipse cx="50.1" cy="88.2" rx="5.3" ry="4.6"/><ellipse cx="51.2" cy="104.7" rx="4.0" ry="4.0"/><ellipse cx="29.2" cy="110.2" rx="4.0" ry="4.0"/><ellipse cx="38.0" cy="124.5" rx="4.6" ry="4.0"/><ellipse cx="74.4" cy="84.9" rx="6.6" ry="4.6"/><ellipse cx="81.0" cy="105.8" rx="4.6" ry="4.6"/><ellipse cx="97.5" cy="110.2" rx="4.6" ry="4.0"/><ellipse cx="106.3" cy="90.4" rx="4.0" ry="4.0"/><ellipse cx="117.3" cy="98.1" rx="5.9" ry="4.6"/><ellipse cx="78.8" cy="124.5" rx="4.0" ry="4.6"/><ellipse cx="90.9" cy="133.3" rx="4.6" ry="4.0"/><ellipse cx="97.5" cy="138.8" rx="4.0" ry="3.3"/><ellipse cx="126.1" cy="130.0" rx="5.3" ry="4.6"/><ellipse cx="112.9" cy="124.5" rx="4.0" ry="3.3"/><ellipse cx="155.9" cy="23.2" rx="4.6" ry="6.6"/><ellipse cx="150.4" cy="50.7" rx="5.3" ry="4.6"/><ellipse cx="213.2" cy="37.5" rx="11.6" ry="9.2"/><ellipse cx="190.1" cy="51.8" rx="5.9" ry="5.3"/><ellipse cx="169.1" cy="71.7" rx="5.3" ry="5.3"/><ellipse cx="183.5" cy="80.5" rx="5.3" ry="5.3"/><ellipse cx="198.9" cy="87.1" rx="7.9" ry="6.6"/><ellipse cx="205.5" cy="71.7" rx="4.0" ry="4.0"/><ellipse cx="231.9" cy="64.0" rx="7.3" ry="4.6"/><ellipse cx="147.1" cy="97.0" rx="9.2" ry="5.9"/><ellipse cx="161.4" cy="100.3" rx="4.6" ry="4.0"/><ellipse cx="216.5" cy="106.9" rx="5.9" ry="4.6"/><ellipse cx="181.2" cy="112.4" rx="4.0" ry="4.0"/><ellipse cx="146.0" cy="120.1" rx="6.6" ry="4.6"/><ellipse cx="214.3" cy="134.4" rx="7.9" ry="5.3"/><ellipse cx="194.5" cy="133.3" rx="4.0" ry="4.6"/><ellipse cx="248.4" cy="18.8" rx="3.3" ry="3.3"/><ellipse cx="203.3" cy="112.4" rx="4.6" ry="3.3"/><ellipse cx="272.7" cy="38.6" rx="5.9" ry="5.9"/><ellipse cx="330.0" cy="38.6" rx="11.6" ry="8.3"/><ellipse cx="355.3" cy="28.7" rx="11.6" ry="11.6"/><ellipse cx="361.9" cy="40.8" rx="5.0" ry="6.6"/><ellipse cx="382.8" cy="44.1" rx="5.3" ry="6.6"/><ellipse cx="370.7" cy="89.3" rx="5.9" ry="6.6"/><ellipse cx="383.9" cy="84.9" rx="7.3" ry="8.3"/><ellipse cx="305.7" cy="113.5" rx="6.6" ry="4.6"/><ellipse cx="294.7" cy="81.6" rx="2.6" ry="2.6"/><ellipse cx="341.0" cy="18.8" rx="3.3" ry="3.3"/><ellipse cx="392.7" cy="18.8" rx="3.3" ry="5.0"/><ellipse cx="381.7" cy="132.2" rx="9.9" ry="4.6"/><ellipse cx="359.7" cy="123.4" rx="4.6" ry="4.0"/><ellipse cx="56.8" cy="165.9" rx="4.6" ry="8.3"/><ellipse cx="79.9" cy="151.6" rx="11.6" ry="5.9"/><ellipse cx="110.7" cy="174.7" rx="4.6" ry="8.3"/><ellipse cx="40.2" cy="186.8" rx="8.3" ry="7.3"/><ellipse cx="12.7" cy="191.2" rx="4.6" ry="5.3"/><ellipse cx="14.9" cy="208.9" rx="5.3" ry="4.6"/><ellipse cx="101.9" cy="201.2" rx="4.6" ry="6.6"/><ellipse cx="118.4" cy="199.0" rx="6.6" ry="4.6"/><ellipse cx="68.9" cy="215.5" rx="5.3" ry="4.6"/><ellipse cx="78.8" cy="227.6" rx="5.3" ry="4.6"/><ellipse cx="81.0" cy="246.3" rx="8.3" ry="6.6"/><ellipse cx="117.3" cy="246.3" rx="4.6" ry="11.6"/><ellipse cx="60.1" cy="252.9" rx="4.6" ry="4.0"/><ellipse cx="18.2" cy="259.5" rx="9.9" ry="5.3"/><ellipse cx="42.4" cy="224.3" rx="6.6" ry="3.3"/><ellipse cx="137.1" cy="192.3" rx="4.0" ry="4.6"/><ellipse cx="95.3" cy="268.3" rx="4.6" ry="4.6"/><ellipse cx="29.2" cy="153.8" rx="4.0" ry="3.3"/><ellipse cx="168.0" cy="171.4" rx="9.2" ry="5.9"/><ellipse cx="185.7" cy="180.2" rx="9.9" ry="7.3"/><ellipse cx="141.6" cy="191.2" rx="7.3" ry="4.6"/><ellipse cx="168.0" cy="196.8" rx="4.6" ry="4.0"/><ellipse cx="242.9" cy="173.6" rx="8.3" ry="4.0"/><ellipse cx="258.3" cy="186.8" rx="6.6" ry="4.6"/><ellipse cx="193.4" cy="216.6" rx="4.6" ry="5.3"/><ellipse cx="212.1" cy="222.1" rx="8.3" ry="6.6"/><ellipse cx="227.5" cy="164.8" rx="4.0" ry="4.0"/><ellipse cx="137.2" cy="228.7" rx="4.0" ry="6.6"/><ellipse cx="182.3" cy="235.3" rx="4.0" ry="4.0"/><ellipse cx="157.0" cy="241.9" rx="4.0" ry="4.0"/><ellipse cx="165.8" cy="256.2" rx="6.6" ry="4.6"/><ellipse cx="187.9" cy="248.5" rx="4.6" ry="4.0"/><ellipse cx="205.5" cy="254.0" rx="5.3" ry="4.6"/><ellipse cx="141.6" cy="263.9" rx="5.3" ry="4.0"/><ellipse cx="148.2" cy="271.6" rx="4.0" ry="3.3"/><ellipse cx="262.7" cy="247.4" rx="5.3" ry="4.6"/><ellipse cx="253.9" cy="239.7" rx="4.0" ry="4.0"/><ellipse cx="238.5" cy="268.3" rx="4.6" ry="3.3"/><ellipse cx="218.7" cy="237.5" rx="4.0" ry="4.0"/><ellipse cx="335.5" cy="153.8" rx="9.9" ry="8.3"/><ellipse cx="301.3" cy="182.4" rx="13.2" ry="7.3"/><ellipse cx="363.0" cy="162.6" rx="5.9" ry="6.6"/><ellipse cx="331.1" cy="202.3" rx="4.0" ry="4.6"/><ellipse cx="314.6" cy="213.3" rx="4.0" ry="4.6"/><ellipse cx="319.0" cy="239.7" rx="7.3" ry="8.3"/><ellipse cx="267.2" cy="248.5" rx="4.6" ry="6.6"/><ellipse cx="349.8" cy="259.5" rx="7.3" ry="4.6"/><ellipse cx="298.0" cy="271.6" rx="8.3" ry="4.0"/><ellipse cx="385.0" cy="203.4" rx="8.3" ry="4.0"/><ellipse cx="361.9" cy="210.0" rx="6.6" ry="4.0"/><ellipse cx="281.5" cy="184.6" rx="4.0" ry="4.0"/><ellipse cx="394.9" cy="149.4" rx="3.3" ry="6.6"/><ellipse cx="320.1" cy="257.3" rx="5.3" ry="3.3"/><ellipse cx="51.2" cy="292.1" rx="5.9" ry="7.3"/><ellipse cx="76.6" cy="294.3" rx="4.6" ry="5.9"/><ellipse cx="93.1" cy="288.8" rx="4.6" ry="5.9"/><ellipse cx="125.0" cy="284.4" rx="8.3" ry="4.6"/><ellipse cx="23.7" cy="313.0" rx="5.3" ry="4.0"/><ellipse cx="45.7" cy="319.6" rx="7.3" ry="5.9"/><ellipse cx="56.8" cy="339.5" rx="5.3" ry="6.6"/><ellipse cx="93.1" cy="327.3" rx="5.9" ry="5.3"/><ellipse cx="118.4" cy="313.0" rx="5.3" ry="4.6"/><ellipse cx="127.2" cy="319.6" rx="4.0" ry="4.6"/><ellipse cx="133.8" cy="335.1" rx="6.6" ry="4.6"/><ellipse cx="33.6" cy="350.5" rx="5.3" ry="3.3"/><ellipse cx="65.6" cy="353.8" rx="11.6" ry="6.6"/><ellipse cx="97.5" cy="349.4" rx="5.3" ry="5.3"/><ellipse cx="18.2" cy="362.6" rx="4.6" ry="3.3"/><ellipse cx="66.7" cy="376.9" rx="6.6" ry="4.0"/><ellipse cx="11.6" cy="383.5" rx="4.0" ry="6.6"/><ellipse cx="53.5" cy="395.6" rx="8.3" ry="4.6"/><ellipse cx="120.6" cy="390.1" rx="8.3" ry="4.6"/><ellipse cx="27.0" cy="404.4" rx="4.6" ry="3.3"/><ellipse cx="101.9" cy="362.6" rx="4.6" ry="3.3"/><ellipse cx="143.8" cy="288.8" rx="5.3" ry="4.0"/><ellipse cx="153.7" cy="299.8" rx="4.0" ry="5.3"/><ellipse cx="186.8" cy="302.0" rx="5.9" ry="7.3"/><ellipse cx="169.1" cy="320.7" rx="7.3" ry="5.9"/><ellipse cx="150.4" cy="317.4" rx="4.6" ry="5.3"/><ellipse cx="212.1" cy="313.0" rx="4.6" ry="5.9"/><ellipse cx="231.9" cy="297.6" rx="5.9" ry="4.6"/><ellipse cx="242.9" cy="319.6" rx="5.3" ry="5.9"/><ellipse cx="227.5" cy="334.0" rx="8.3" ry="5.9"/><ellipse cx="216.5" cy="350.5" rx="7.3" ry="7.3"/><ellipse cx="260.5" cy="346.1" rx="7.3" ry="5.9"/><ellipse cx="201.1" cy="326.2" rx="4.6" ry="4.6"/><ellipse cx="160.3" cy="371.4" rx="5.9" ry="4.6"/><ellipse cx="211.0" cy="383.5" rx="5.3" ry="5.9"/><ellipse cx="190.1" cy="394.5" rx="8.3" ry="5.3"/><ellipse cx="181.2" cy="383.5" rx="4.0" ry="4.0"/><ellipse cx="230.8" cy="368.1" rx="6.6" ry="4.0"/><ellipse cx="238.5" cy="379.1" rx="4.6" ry="4.0"/><ellipse cx="168.0" cy="387.9" rx="4.0" ry="4.6"/><ellipse cx="207.7" cy="407.7" rx="4.0" ry="3.3"/><ellipse cx="267.1" cy="394.5" rx="4.6" ry="4.6"/><ellipse cx="137.2" cy="339.5" rx="3.3" ry="6.6"/><ellipse cx="179.0" cy="282.2" rx="4.0" ry="3.3"/><ellipse cx="249.5" cy="308.6" rx="4.0" ry="4.0"/><ellipse cx="198.9" cy="350.5" rx="4.0" ry="3.3"/><ellipse cx="315.7" cy="287.7" rx="9.9" ry="5.9"/><ellipse cx="287.0" cy="329.6" rx="7.3" ry="4.6"/><ellipse cx="269.4" cy="315.2" rx="4.0" ry="8.3"/><ellipse cx="335.5" cy="374.7" rx="6.6" ry="5.9"/><ellipse cx="352.0" cy="360.4" rx="7.3" ry="4.0"/><ellipse cx="388.3" cy="370.3" rx="7.3" ry="5.3"/><ellipse cx="357.5" cy="390.1" rx="6.6" ry="4.6"/><ellipse cx="273.8" cy="395.6" rx="7.3" ry="4.6"/><ellipse cx="285.9" cy="404.4" rx="7.3" ry="5.3"/><ellipse cx="304.6" cy="407.7" rx="4.6" ry="3.3"/><ellipse cx="361.9" cy="343.9" rx="4.6" ry="3.3"/><ellipse cx="314.6" cy="350.5" rx="4.0" ry="3.3"/><ellipse cx="372.9" cy="380.2" rx="4.0" ry="4.0"/></g>
</g>
<rect x="9" y="14.5" width="387" height="397.5" fill="none" stroke="#000" stroke-width="2"/>
<rect x="112.8" y="205.2" width="85.6" height="88" fill="none" stroke="#1262f0" stroke-width="2.4"/>
<rect x="199.4" y="117.8" width="86.6" height="87.4" fill="none" stroke="#48e600" stroke-width="2.4"/>
<rect x="455.60" y="3.50" width="251.40" height="140.90" fill="#fff" stroke="#484848" stroke-width="1"/>
<line x1="451.40" y1="9.70" x2="455.60" y2="9.70" stroke="#111" stroke-width="1"/>
<text x="448.60" y="13.90" font-size="12" text-anchor="end" fill="#000" stroke="#000" stroke-width="0.15">0.8</text>
<line x1="451.40" y1="52.60" x2="455.60" y2="52.60" stroke="#111" stroke-width="1"/>
<text x="448.60" y="56.80" font-size="12" text-anchor="end" fill="#000" stroke="#000" stroke-width="0.15">0.6</text>
<line x1="451.40" y1="95.50" x2="455.60" y2="95.50" stroke="#111" stroke-width="1"/>
<text x="448.60" y="99.70" font-size="12" text-anchor="end" fill="#000" stroke="#000" stroke-width="0.15">0.4</text>
<line x1="451.40" y1="138.10" x2="455.60" y2="138.10" stroke="#111" stroke-width="1"/>
<text x="448.60" y="142.30" font-size="12" text-anchor="end" fill="#000" stroke="#000" stroke-width="0.15">0.2</text>
<line x1="467.01" y1="144.40" x2="467.01" y2="148.90" stroke="#111" stroke-width="1"/>
<line x1="480.42" y1="144.40" x2="480.42" y2="148.90" stroke="#111" stroke-width="1"/>
<line x1="493.83" y1="144.40" x2="493.83" y2="148.90" stroke="#111" stroke-width="1"/>
<line x1="507.25" y1="144.40" x2="507.25" y2="148.90" stroke="#111" stroke-width="1"/>
<line x1="520.66" y1="144.40" x2="520.66" y2="148.90" stroke="#111" stroke-width="1"/>
<line x1="534.07" y1="144.40" x2="534.07" y2="148.90" stroke="#111" stroke-width="1"/>
<line x1="547.48" y1="144.40" x2="547.48" y2="148.90" stroke="#111" stroke-width="1"/>
<line x1="560.89" y1="144.40" x2="560.89" y2="148.90" stroke="#111" stroke-width="1"/>
<line x1="587.71" y1="144.40" x2="587.71" y2="148.90" stroke="#111" stroke-width="1"/>
<line x1="601.12" y1="144.40" x2="601.12" y2="148.90" stroke="#111" stroke-width="1"/>
<line x1="614.54" y1="144.40" x2="614.54" y2="148.90" stroke="#111" stroke-width="1"/>
<line x1="627.95" y1="144.40" x2="627.95" y2="148.90" stroke="#111" stroke-width="1"/>
<line x1="641.36" y1="144.40" x2="641.36" y2="148.90" stroke="#111" stroke-width="1"/>
<line x1="654.77" y1="144.40" x2="654.77" y2="148.90" stroke="#111" stroke-width="1"/>
<line x1="668.18" y1="144.40" x2="668.18" y2="148.90" stroke="#111" stroke-width="1"/>
<line x1="681.59" y1="144.40" x2="681.59" y2="148.90" stroke="#111" stroke-width="1"/>
<line x1="695.00" y1="144.40" x2="695.00" y2="148.90" stroke="#111" stroke-width="1"/>
<text transform="translate(472.71,157.30) rotate(-45)" font-size="12.4" text-anchor="end" fill="#000" stroke="#000" stroke-width="0.25">Mar 22</text>
<text transform="translate(512.95,157.30) rotate(-45)" font-size="12.4" text-anchor="end" fill="#000" stroke="#000" stroke-width="0.25">May 09</text>
<text transform="translate(539.77,157.30) rotate(-45)" font-size="12.4" text-anchor="end" fill="#000" stroke="#000" stroke-width="0.25">Jun 10</text>
<text transform="translate(566.59,157.30) rotate(-45)" font-size="12.4" text-anchor="end" fill="#000" stroke="#000" stroke-width="0.25">Jul 12</text>
<text transform="translate(620.24,157.30) rotate(-45)" font-size="12.4" text-anchor="end" fill="#000" stroke="#000" stroke-width="0.25">Sep 14</text>
<text transform="translate(647.06,157.30) rotate(-45)" font-size="12.4" text-anchor="end" fill="#000" stroke="#000" stroke-width="0.25">Oct 16</text>
<text transform="translate(700.70,157.30) rotate(-45)" font-size="12.4" text-anchor="end" fill="#000" stroke="#000" stroke-width="0.25">Dec 19</text>
<polyline points="467.01,75.66 480.47,85.82 493.67,81.76 507.13,86.07 520.59,82.52 534.04,78.71 547.50,83.54 560.96,77.95 574.41,76.68 587.87,75.66 601.33,69.32 614.79,73.89 628.24,74.39 641.45,76.93 654.90,73.89 668.36,77.19 681.56,78.46 695.02,80.23" fill="none" stroke="#a3ec5c" stroke-width="2.9" stroke-linejoin="round" stroke-linecap="butt"/>
<polyline points="467.01,71.60 480.47,62.21 493.67,70.33 507.13,65.76 520.59,59.41 534.04,59.41 547.50,58.91 560.96,57.38 574.41,50.27 587.87,43.42 601.33,36.31 614.79,41.39 628.24,36.31 641.45,42.66 654.90,38.59 668.36,38.85 681.56,37.07 695.02,40.37" fill="none" stroke="#0c6bd0" stroke-width="2.9" stroke-linejoin="round" stroke-linecap="butt"/>
<text x="466.10" y="27.00" font-size="19.4" fill="#000">2005</text>
<text transform="translate(420.10,73.95) rotate(-89.8)" font-size="15.4" textLength="35" lengthAdjust="spacingAndGlyphs" text-anchor="middle" fill="#000">NDVI</text>
<rect x="765.60" y="3.50" width="251.50" height="140.90" fill="#fff" stroke="#484848" stroke-width="1"/>
<line x1="761.40" y1="10.30" x2="765.60" y2="10.30" stroke="#111" stroke-width="1"/>
<text x="758.60" y="14.50" font-size="12" text-anchor="end" fill="#000" stroke="#000" stroke-width="0.15">0.8</text>
<line x1="761.40" y1="53.20" x2="765.60" y2="53.20" stroke="#111" stroke-width="1"/>
<text x="758.60" y="57.40" font-size="12" text-anchor="end" fill="#000" stroke="#000" stroke-width="0.15">0.6</text>
<line x1="761.40" y1="96.10" x2="765.60" y2="96.10" stroke="#111" stroke-width="1"/>
<text x="758.60" y="100.30" font-size="12" text-anchor="end" fill="#000" stroke="#000" stroke-width="0.15">0.4</text>
<line x1="761.40" y1="138.70" x2="765.60" y2="138.70" stroke="#111" stroke-width="1"/>
<text x="758.60" y="142.90" font-size="12" text-anchor="end" fill="#000" stroke="#000" stroke-width="0.15">0.2</text>
<line x1="777.01" y1="144.40" x2="777.01" y2="148.90" stroke="#111" stroke-width="1"/>
<line x1="788.69" y1="144.40" x2="788.69" y2="148.90" stroke="#111" stroke-width="1"/>
<line x1="824.75" y1="144.40" x2="824.75" y2="148.90" stroke="#111" stroke-width="1"/>
<line x1="836.68" y1="144.40" x2="836.68" y2="148.90" stroke="#111" stroke-width="1"/>
<line x1="848.61" y1="144.40" x2="848.61" y2="148.90" stroke="#111" stroke-width="1"/>
<line x1="860.55" y1="144.40" x2="860.55" y2="148.90" stroke="#111" stroke-width="1"/>
<line x1="872.48" y1="144.40" x2="872.48" y2="148.90" stroke="#111" stroke-width="1"/>
<line x1="891.02" y1="144.40" x2="891.02" y2="148.90" stroke="#111" stroke-width="1"/>
<line x1="920.98" y1="144.40" x2="920.98" y2="148.90" stroke="#111" stroke-width="1"/>
<line x1="932.91" y1="144.40" x2="932.91" y2="148.90" stroke="#111" stroke-width="1"/>
<line x1="944.84" y1="144.40" x2="944.84" y2="148.90" stroke="#111" stroke-width="1"/>
<line x1="957.03" y1="144.40" x2="957.03" y2="148.90" stroke="#111" stroke-width="1"/>
<line x1="968.96" y1="144.40" x2="968.96" y2="148.90" stroke="#111" stroke-width="1"/>
<line x1="980.90" y1="144.40" x2="980.90" y2="148.90" stroke="#111" stroke-width="1"/>
<line x1="993.09" y1="144.40" x2="993.09" y2="148.90" stroke="#111" stroke-width="1"/>
<line x1="1005.02" y1="144.40" x2="1005.02" y2="148.90" stroke="#111" stroke-width="1"/>
<text transform="translate(782.71,157.30) rotate(-45)" font-size="12.4" text-anchor="end" fill="#000" stroke="#000" stroke-width="0.25">Feb 02</text>
<text transform="translate(830.71,157.30) rotate(-45)" font-size="12.4" text-anchor="end" fill="#000" stroke="#000" stroke-width="0.25">Apr 07</text>
<text transform="translate(866.71,157.30) rotate(-45)" font-size="12.4" text-anchor="end" fill="#000" stroke="#000" stroke-width="0.25">May 25</text>
<text transform="translate(896.71,157.30) rotate(-45)" font-size="12.4" text-anchor="end" fill="#000" stroke="#000" stroke-width="0.25">Jul 04</text>
<text transform="translate(926.71,157.30) rotate(-45)" font-size="12.4" text-anchor="end" fill="#000" stroke="#000" stroke-width="0.25">Aug 13</text>
<text transform="translate(950.71,157.30) rotate(-45)" font-size="12.4" text-anchor="end" fill="#000" stroke="#000" stroke-width="0.25">Sep 14</text>
<text transform="translate(974.71,157.30) rotate(-45)" font-size="12.4" text-anchor="end" fill="#000" stroke="#000" stroke-width="0.25">Oct 16</text>
<text transform="translate(1010.70,157.30) rotate(-45)" font-size="12.4" text-anchor="end" fill="#000" stroke="#000" stroke-width="0.25">Dec 03</text>
<polyline points="777.01,92.68 788.69,93.95 800.62,94.71 812.56,95.21 824.75,95.72 836.68,98.77 848.61,95.72 860.55,95.47 872.48,94.20 891.02,80.74 906.00,76.43 920.98,72.87 932.91,72.11 944.84,71.60 957.03,76.17 968.96,75.92 980.90,78.96 993.09,84.55 1005.02,82.01" fill="none" stroke="#a3ec5c" stroke-width="2.9" stroke-linejoin="round" stroke-linecap="butt"/>
<polyline points="777.01,48.50 788.69,51.80 800.62,56.62 812.56,61.19 824.75,65.76 836.68,68.55 848.61,72.36 860.55,66.78 872.48,65.76 891.02,55.10 920.98,55.10 932.91,45.45 944.84,46.72 957.03,40.88 968.96,46.21 980.90,45.96 993.09,38.59 1005.02,38.34" fill="none" stroke="#0c6bd0" stroke-width="2.9" stroke-linejoin="round" stroke-linecap="butt"/>
<text x="773.60" y="27.80" font-size="19.4" fill="#000">2006</text>
<text transform="translate(730.10,73.95) rotate(-89.8)" font-size="15.4" textLength="35" lengthAdjust="spacingAndGlyphs" text-anchor="middle" fill="#000">NDVI</text>
<rect x="455.60" y="206.50" width="251.40" height="140.50" fill="#fff" stroke="#484848" stroke-width="1"/>
<line x1="451.40" y1="212.70" x2="455.60" y2="212.70" stroke="#111" stroke-width="1"/>
<text x="448.60" y="216.90" font-size="12" text-anchor="end" fill="#000" stroke="#000" stroke-width="0.15">0.8</text>
<line x1="451.40" y1="255.60" x2="455.60" y2="255.60" stroke="#111" stroke-width="1"/>
<text x="448.60" y="259.80" font-size="12" text-anchor="end" fill="#000" stroke="#000" stroke-width="0.15">0.6</text>
<line x1="451.40" y1="298.30" x2="455.60" y2="298.30" stroke="#111" stroke-width="1"/>
<text x="448.60" y="302.50" font-size="12" text-anchor="end" fill="#000" stroke="#000" stroke-width="0.15">0.4</text>
<line x1="451.40" y1="340.40" x2="455.60" y2="340.40" stroke="#111" stroke-width="1"/>
<text x="448.60" y="344.60" font-size="12" text-anchor="end" fill="#000" stroke="#000" stroke-width="0.15">0.2</text>
<line x1="467.01" y1="347.00" x2="467.01" y2="351.50" stroke="#111" stroke-width="1"/>
<line x1="481.26" y1="347.00" x2="481.26" y2="351.50" stroke="#111" stroke-width="1"/>
<line x1="495.51" y1="347.00" x2="495.51" y2="351.50" stroke="#111" stroke-width="1"/>
<line x1="509.76" y1="347.00" x2="509.76" y2="351.50" stroke="#111" stroke-width="1"/>
<line x1="524.01" y1="347.00" x2="524.01" y2="351.50" stroke="#111" stroke-width="1"/>
<line x1="538.26" y1="347.00" x2="538.26" y2="351.50" stroke="#111" stroke-width="1"/>
<line x1="552.51" y1="347.00" x2="552.51" y2="351.50" stroke="#111" stroke-width="1"/>
<line x1="566.76" y1="347.00" x2="566.76" y2="351.50" stroke="#111" stroke-width="1"/>
<line x1="581.01" y1="347.00" x2="581.01" y2="351.50" stroke="#111" stroke-width="1"/>
<line x1="609.50" y1="347.00" x2="609.50" y2="351.50" stroke="#111" stroke-width="1"/>
<line x1="623.75" y1="347.00" x2="623.75" y2="351.50" stroke="#111" stroke-width="1"/>
<line x1="638.00" y1="347.00" x2="638.00" y2="351.50" stroke="#111" stroke-width="1"/>
<line x1="652.25" y1="347.00" x2="652.25" y2="351.50" stroke="#111" stroke-width="1"/>
<line x1="666.50" y1="347.00" x2="666.50" y2="351.50" stroke="#111" stroke-width="1"/>
<line x1="680.75" y1="347.00" x2="680.75" y2="351.50" stroke="#111" stroke-width="1"/>
<line x1="695.00" y1="347.00" x2="695.00" y2="351.50" stroke="#111" stroke-width="1"/>
<text transform="translate(472.71,359.90) rotate(-45)" font-size="12.4" text-anchor="end" fill="#000" stroke="#000" stroke-width="0.25">Feb 26</text>
<text transform="translate(529.71,359.90) rotate(-45)" font-size="12.4" text-anchor="end" fill="#000" stroke="#000" stroke-width="0.25">May 01</text>
<text transform="translate(558.21,359.90) rotate(-45)" font-size="12.4" text-anchor="end" fill="#000" stroke="#000" stroke-width="0.25">Jun 02</text>
<text transform="translate(586.71,359.90) rotate(-45)" font-size="12.4" text-anchor="end" fill="#000" stroke="#000" stroke-width="0.25">Jul 04</text>
<text transform="translate(615.20,359.90) rotate(-45)" font-size="12.4" text-anchor="end" fill="#000" stroke="#000" stroke-width="0.25">Aug 05</text>
<text transform="translate(643.70,359.90) rotate(-45)" font-size="12.4" text-anchor="end" fill="#000" stroke="#000" stroke-width="0.25">Sep 06</text>
<text transform="translate(672.20,359.90) rotate(-45)" font-size="12.4" text-anchor="end" fill="#000" stroke="#000" stroke-width="0.25">Oct 08</text>
<text transform="translate(700.70,359.90) rotate(-45)" font-size="12.4" text-anchor="end" fill="#000" stroke="#000" stroke-width="0.25">Nov 09</text>
<polyline points="467.01,312.48 480.98,316.29 495.20,313.24 509.67,310.20 523.89,315.02 538.11,310.96 552.32,314.26 566.54,321.37 581.02,314.51 595.23,299.02 609.45,283.54 623.67,279.73 638.14,286.33 652.36,291.15 666.58,305.88 680.80,312.48 695.02,316.80" fill="none" stroke="#a3ec5c" stroke-width="2.9" stroke-linejoin="round" stroke-linecap="butt"/>
<polyline points="467.01,260.68 480.98,259.16 495.20,263.22 509.67,266.02 523.89,268.55 538.11,266.52 552.32,268.05 566.54,269.32 581.02,266.02 595.23,255.35 609.45,244.43 623.67,247.73 638.14,241.64 652.36,242.66 666.58,247.73 680.80,249.00 695.02,244.94" fill="none" stroke="#0c6bd0" stroke-width="2.9" stroke-linejoin="round" stroke-linecap="butt"/>
<text x="467.30" y="230.70" font-size="19.4" fill="#000">2007</text>
<text transform="translate(420.10,276.75) rotate(-89.8)" font-size="15.4" textLength="35" lengthAdjust="spacingAndGlyphs" text-anchor="middle" fill="#000">NDVI</text>
<rect x="767.10" y="206.50" width="250.90" height="140.50" fill="#fff" stroke="#484848" stroke-width="1"/>
<line x1="762.90" y1="212.80" x2="767.10" y2="212.80" stroke="#111" stroke-width="1"/>
<text x="760.10" y="217.00" font-size="12" text-anchor="end" fill="#000" stroke="#000" stroke-width="0.15">0.8</text>
<line x1="762.90" y1="255.70" x2="767.10" y2="255.70" stroke="#111" stroke-width="1"/>
<text x="760.10" y="259.90" font-size="12" text-anchor="end" fill="#000" stroke="#000" stroke-width="0.15">0.6</text>
<line x1="762.90" y1="298.40" x2="767.10" y2="298.40" stroke="#111" stroke-width="1"/>
<text x="760.10" y="302.60" font-size="12" text-anchor="end" fill="#000" stroke="#000" stroke-width="0.15">0.4</text>
<line x1="762.90" y1="340.50" x2="767.10" y2="340.50" stroke="#111" stroke-width="1"/>
<text x="760.10" y="344.70" font-size="12" text-anchor="end" fill="#000" stroke="#000" stroke-width="0.15">0.2</text>
<line x1="778.03" y1="347.00" x2="778.03" y2="351.50" stroke="#111" stroke-width="1"/>
<line x1="793.21" y1="347.00" x2="793.21" y2="351.50" stroke="#111" stroke-width="1"/>
<line x1="808.39" y1="347.00" x2="808.39" y2="351.50" stroke="#111" stroke-width="1"/>
<line x1="823.58" y1="347.00" x2="823.58" y2="351.50" stroke="#111" stroke-width="1"/>
<line x1="838.76" y1="347.00" x2="838.76" y2="351.50" stroke="#111" stroke-width="1"/>
<line x1="853.95" y1="347.00" x2="853.95" y2="351.50" stroke="#111" stroke-width="1"/>
<line x1="869.13" y1="347.00" x2="869.13" y2="351.50" stroke="#111" stroke-width="1"/>
<line x1="899.50" y1="347.00" x2="899.50" y2="351.50" stroke="#111" stroke-width="1"/>
<line x1="914.68" y1="347.00" x2="914.68" y2="351.50" stroke="#111" stroke-width="1"/>
<line x1="929.86" y1="347.00" x2="929.86" y2="351.50" stroke="#111" stroke-width="1"/>
<line x1="945.05" y1="347.00" x2="945.05" y2="351.50" stroke="#111" stroke-width="1"/>
<line x1="960.23" y1="347.00" x2="960.23" y2="351.50" stroke="#111" stroke-width="1"/>
<line x1="975.41" y1="347.00" x2="975.41" y2="351.50" stroke="#111" stroke-width="1"/>
<line x1="990.60" y1="347.00" x2="990.60" y2="351.50" stroke="#111" stroke-width="1"/>
<line x1="1005.78" y1="347.00" x2="1005.78" y2="351.50" stroke="#111" stroke-width="1"/>
<text transform="translate(783.73,359.90) rotate(-45)" font-size="12.4" text-anchor="end" fill="#000" stroke="#000" stroke-width="0.25">Mar 21</text>
<text transform="translate(814.09,359.90) rotate(-45)" font-size="12.4" text-anchor="end" fill="#000" stroke="#000" stroke-width="0.25">Apr 22</text>
<text transform="translate(844.46,359.90) rotate(-45)" font-size="12.4" text-anchor="end" fill="#000" stroke="#000" stroke-width="0.25">May 24</text>
<text transform="translate(874.83,359.90) rotate(-45)" font-size="12.4" text-anchor="end" fill="#000" stroke="#000" stroke-width="0.25">Jun 25</text>
<text transform="translate(920.38,359.90) rotate(-45)" font-size="12.4" text-anchor="end" fill="#000" stroke="#000" stroke-width="0.25">Aug 12</text>
<text transform="translate(950.75,359.90) rotate(-45)" font-size="12.4" text-anchor="end" fill="#000" stroke="#000" stroke-width="0.25">Sep 13</text>
<text transform="translate(981.11,359.90) rotate(-45)" font-size="12.4" text-anchor="end" fill="#000" stroke="#000" stroke-width="0.25">Oct 15</text>
<text transform="translate(1011.48,359.90) rotate(-45)" font-size="12.4" text-anchor="end" fill="#000" stroke="#000" stroke-width="0.25">Nov 16</text>
<polyline points="778.03,286.33 793.26,288.11 808.50,290.90 823.73,290.39 838.71,290.64 853.95,287.60 869.18,281.76 884.41,281.25 899.65,280.74 914.88,266.78 930.12,254.84 945.35,262.71 960.59,273.89 975.82,279.22 990.80,283.28 1005.78,277.19" fill="none" stroke="#a3ec5c" stroke-width="2.9" stroke-linejoin="round" stroke-linecap="butt"/>
<polyline points="778.03,274.90 793.26,269.57 808.50,273.38 823.73,275.92 838.71,272.36 853.95,272.62 869.18,267.03 884.41,263.22 899.65,259.67 914.88,250.78 930.12,238.59 945.35,243.67 960.59,250.02 975.82,253.32 990.80,252.05 1005.78,251.29" fill="none" stroke="#0c6bd0" stroke-width="2.9" stroke-linejoin="round" stroke-linecap="butt"/>
<text x="780.10" y="230.60" font-size="19.4" fill="#000">2008</text>
<text transform="translate(731.60,276.75) rotate(-89.8)" font-size="15.4" textLength="35" lengthAdjust="spacingAndGlyphs" text-anchor="middle" fill="#000">NDVI</text>
<text x="892.6" y="402.3" font-size="15.2" text-anchor="middle" fill="#000">Date</text>
<rect x="455.60" y="409.10" width="251.40" height="140.90" fill="#fff" stroke="#484848" stroke-width="1"/>
<line x1="451.40" y1="415.00" x2="455.60" y2="415.00" stroke="#111" stroke-width="1"/>
<text x="448.60" y="419.20" font-size="12" text-anchor="end" fill="#000" stroke="#000" stroke-width="0.15">0.8</text>
<line x1="451.40" y1="458.10" x2="455.60" y2="458.10" stroke="#111" stroke-width="1"/>
<text x="448.60" y="462.30" font-size="12" text-anchor="end" fill="#000" stroke="#000" stroke-width="0.15">0.6</text>
<line x1="451.40" y1="500.80" x2="455.60" y2="500.80" stroke="#111" stroke-width="1"/>
<text x="448.60" y="505.00" font-size="12" text-anchor="end" fill="#000" stroke="#000" stroke-width="0.15">0.4</text>
<line x1="451.40" y1="543.50" x2="455.60" y2="543.50" stroke="#111" stroke-width="1"/>
<text x="448.60" y="547.70" font-size="12" text-anchor="end" fill="#000" stroke="#000" stroke-width="0.15">0.2</text>
<line x1="467.01" y1="550.00" x2="467.01" y2="554.50" stroke="#111" stroke-width="1"/>
<line x1="481.26" y1="550.00" x2="481.26" y2="554.50" stroke="#111" stroke-width="1"/>
<line x1="495.51" y1="550.00" x2="495.51" y2="554.50" stroke="#111" stroke-width="1"/>
<line x1="509.76" y1="550.00" x2="509.76" y2="554.50" stroke="#111" stroke-width="1"/>
<line x1="524.01" y1="550.00" x2="524.01" y2="554.50" stroke="#111" stroke-width="1"/>
<line x1="538.26" y1="550.00" x2="538.26" y2="554.50" stroke="#111" stroke-width="1"/>
<line x1="552.51" y1="550.00" x2="552.51" y2="554.50" stroke="#111" stroke-width="1"/>
<line x1="566.76" y1="550.00" x2="566.76" y2="554.50" stroke="#111" stroke-width="1"/>
<line x1="595.25" y1="550.00" x2="595.25" y2="554.50" stroke="#111" stroke-width="1"/>
<line x1="609.50" y1="550.00" x2="609.50" y2="554.50" stroke="#111" stroke-width="1"/>
<line x1="623.75" y1="550.00" x2="623.75" y2="554.50" stroke="#111" stroke-width="1"/>
<line x1="638.00" y1="550.00" x2="638.00" y2="554.50" stroke="#111" stroke-width="1"/>
<line x1="652.25" y1="550.00" x2="652.25" y2="554.50" stroke="#111" stroke-width="1"/>
<line x1="666.50" y1="550.00" x2="666.50" y2="554.50" stroke="#111" stroke-width="1"/>
<line x1="680.75" y1="550.00" x2="680.75" y2="554.50" stroke="#111" stroke-width="1"/>
<line x1="695.00" y1="550.00" x2="695.00" y2="554.50" stroke="#111" stroke-width="1"/>
<text transform="translate(472.71,562.90) rotate(-45)" font-size="12.4" text-anchor="end" fill="#000" stroke="#000" stroke-width="0.25">Mar 14</text>
<text transform="translate(529.71,562.90) rotate(-45)" font-size="12.4" text-anchor="end" fill="#000" stroke="#000" stroke-width="0.25">May 17</text>
<text transform="translate(558.21,562.90) rotate(-45)" font-size="12.4" text-anchor="end" fill="#000" stroke="#000" stroke-width="0.25">Jun 18</text>
<text transform="translate(600.95,562.90) rotate(-45)" font-size="12.4" text-anchor="end" fill="#000" stroke="#000" stroke-width="0.25">Aug 05</text>
<text transform="translate(629.45,562.90) rotate(-45)" font-size="12.4" text-anchor="end" fill="#000" stroke="#000" stroke-width="0.25">Sep 06</text>
<text transform="translate(657.95,562.90) rotate(-45)" font-size="12.4" text-anchor="end" fill="#000" stroke="#000" stroke-width="0.25">Oct 08</text>
<text transform="translate(700.70,562.90) rotate(-45)" font-size="12.4" text-anchor="end" fill="#000" stroke="#000" stroke-width="0.25">Nov 24</text>
<polyline points="467.01,485.51 480.98,491.86 495.20,493.12 509.67,493.38 523.89,489.57 538.11,484.75 552.32,486.52 566.54,487.79 581.02,485.76 595.23,483.48 609.45,488.55 623.67,487.79 638.14,482.46 652.36,482.21 666.58,485.51 680.80,482.97 695.02,480.94" fill="none" stroke="#a3ec5c" stroke-width="2.9" stroke-linejoin="round" stroke-linecap="butt"/>
<polyline points="467.01,466.46 480.98,466.97 495.20,470.27 509.67,473.07 523.89,468.75 538.11,469.51 552.32,467.99 566.54,462.40 581.02,459.61 595.23,457.07 609.45,458.85 623.67,459.10 638.14,457.58 652.36,455.29 666.58,452.75 680.80,450.47 695.02,451.23" fill="none" stroke="#0c6bd0" stroke-width="2.9" stroke-linejoin="round" stroke-linecap="butt"/>
<text x="467.30" y="432.60" font-size="19.4" fill="#000">2009</text>
<text transform="translate(420.10,479.55) rotate(-89.8)" font-size="15.4" textLength="35" lengthAdjust="spacingAndGlyphs" text-anchor="middle" fill="#000">NDVI</text>
<text x="581.3" y="605.3" font-size="15.2" text-anchor="middle" fill="#000">Date</text>
<text x="779.5" y="489" font-size="16.6" fill="#000">Dominant land cover type:</text>
<text x="779.5" y="526.8" font-size="16.4" fill="#000">Overstory</text>
<text x="779.5" y="546.4" font-size="16.4" fill="#000">Herbaceous</text>
<line x1="881.5" y1="520.5" x2="940.5" y2="520.5" stroke="#0a55e0" stroke-width="2" stroke-linecap="round"/>
<line x1="881.5" y1="540.6" x2="940.5" y2="540.6" stroke="#90e400" stroke-width="2" stroke-linecap="round"/>
</svg>
</body></html>
